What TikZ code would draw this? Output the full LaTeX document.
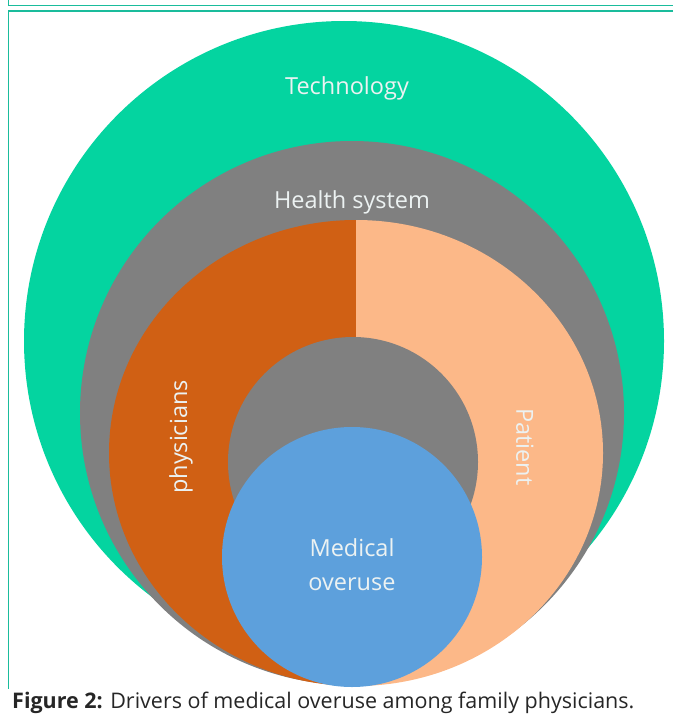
\documentclass[tikz,border=0pt]{standalone}
\usepackage{fontspec}
\setmainfont{Open Sans}
\newfontfamily\capfont{Open Sans}
\definecolor{techgreen}{RGB}{4,212,160}
\definecolor{hsgrey}{RGB}{128,128,128}
\definecolor{phyorange}{RGB}{208,96,20}
\definecolor{patpeach}{RGB}{252,184,136}
\definecolor{medblue}{RGB}{93,160,220}
\definecolor{frameteal}{RGB}{26,188,156}
\definecolor{labelwhite}{RGB}{236,242,242}
\tikzset{
  lbl/.style={text=labelwhite, font=\fontsize{23.5}{26}\selectfont, inner sep=0pt},
  framel/.style={draw=frameteal, line width=1.8pt},
}
\begin{document}
\begin{tikzpicture}[x=1pt,y=-1pt]
\useasboundingbox (0,0) rectangle (673,717);
% frames
\draw[framel, line width=1.3pt] (8.5,0) -- (8.5,5.5) -- (673,5.5);
\draw[framel] (673,11) -- (8.5,11) -- (8.5,689);
% stacked circles
\fill[techgreen] (344,341) circle (320);
\fill[hsgrey] (352,413) circle (272);
\fill[phyorange] (356,220) arc[start angle=-90, end angle=-270, x radius=247, y radius=233] -- cycle;
\fill[patpeach] (356,220) arc[start angle=-90, end angle=90, x radius=247, y radius=233] -- cycle;
\fill[hsgrey] (353,462) circle (125);
\fill[medblue] (352,557) circle (130);
% labels
\node[lbl] (tech) at (347,88) {Technology};
\node[lbl] (hs) at (352,202) {Health system};
\node[lbl, rotate=90] (phys) at (181,437) {physicians};
\node[lbl, rotate=-90] (pat) at (525,447) {Patient};
\node[lbl, align=center, font=\fontsize{23.5}{34}\selectfont] (med) at (352,565) {Medical\\overuse};
% caption
\node[anchor=west, inner sep=0pt, text=black!85, font=\capfont\fontsize{21.5}{24}\selectfont] (cap) at (12,703) {\textbf{Figure 2:} Drivers of medical overuse among family physicians.};
\end{tikzpicture}
\end{document}
